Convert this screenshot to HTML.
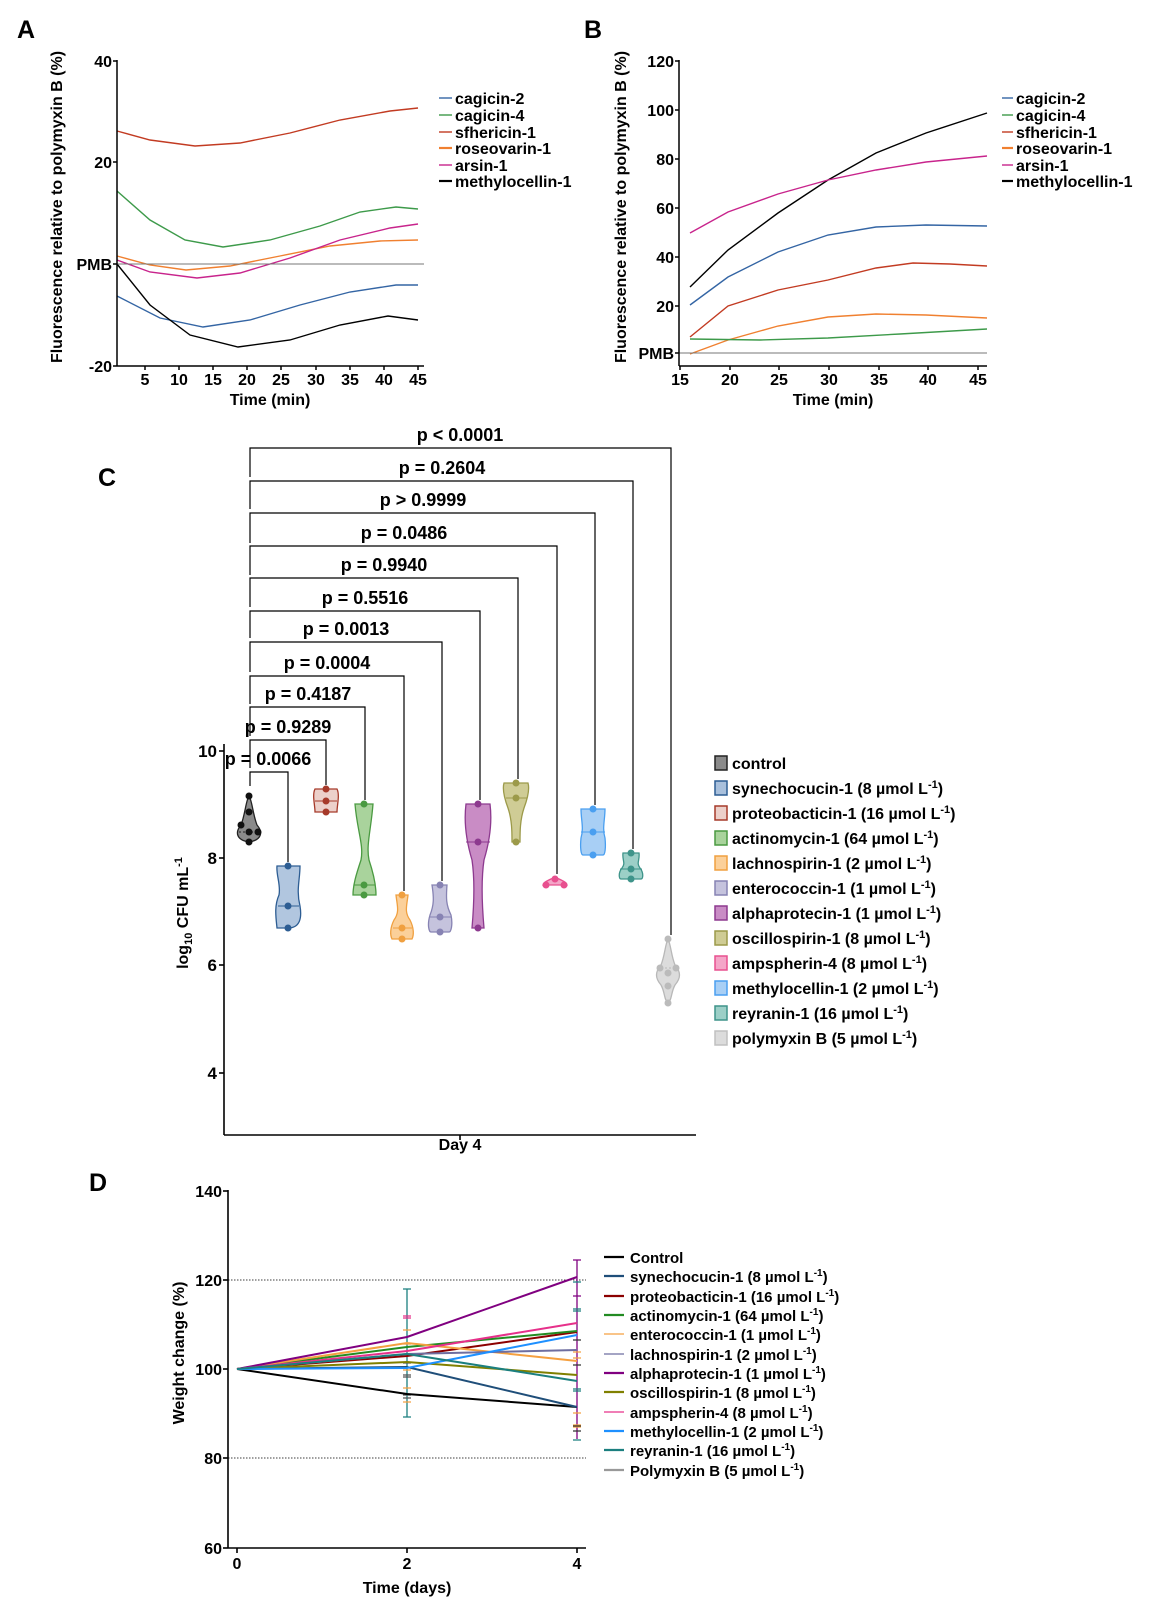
<!DOCTYPE html>
<html><head><meta charset="utf-8"><style>
html,body{margin:0;padding:0;background:#fff;}
svg{display:block;font-family:"Liberation Sans",Arial,sans-serif;font-weight:bold;}
</style></head><body>
<svg width="1158" height="1614" viewBox="0 0 1158 1614" xmlns="http://www.w3.org/2000/svg">
<!-- ========== PANEL A ========== -->
<text x="17" y="38" font-size="25">A</text>
<g fill="none" stroke-width="1.4">
<polyline stroke="#c23b22" points="117,131 150,140 195,146 240,143 290,133 340,120 390,111 418,108"/>
<polyline stroke="#3d9a4a" points="117,191 150,220 185,240 223,247 270,240 320,226 360,212 396,207 418,209"/>
<polyline stroke="#f08030" points="117,256 150,265 186,270 230,266 280,256 330,246 380,241 418,240"/>
<polyline stroke="#c8248c" points="117,260 150,272 197,278 240,273 290,258 340,240 390,228 418,224"/>
<polyline stroke="#3465a4" points="117,296 160,318 203,327 250,320 300,305 350,292 396,285 418,285"/>
<polyline stroke="#000" points="117,264 150,305 190,335 238,347 290,340 340,325 388,316 418,320"/>
</g>
<line x1="117" y1="264" x2="424" y2="264" stroke="#777" stroke-width="1"/>
<g stroke="#000" stroke-width="1.5">
<line x1="117" y1="60" x2="117" y2="366"/><line x1="117" y1="366" x2="424" y2="366"/>
<line x1="113" y1="61" x2="117" y2="61"/><line x1="113" y1="162" x2="117" y2="162"/><line x1="113" y1="264" x2="117" y2="264"/><line x1="113" y1="366" x2="117" y2="366"/>
<line x1="145" y1="366" x2="145" y2="370"/><line x1="179" y1="366" x2="179" y2="370"/><line x1="213" y1="366" x2="213" y2="370"/><line x1="247" y1="366" x2="247" y2="370"/><line x1="281" y1="366" x2="281" y2="370"/><line x1="316" y1="366" x2="316" y2="370"/><line x1="350" y1="366" x2="350" y2="370"/><line x1="384" y1="366" x2="384" y2="370"/><line x1="418" y1="366" x2="418" y2="370"/>
</g>
<g font-size="16" text-anchor="end">
<text x="112" y="67">40</text><text x="112" y="168">20</text><text x="112" y="270">PMB</text><text x="112" y="372">-20</text>
</g>
<g font-size="16" text-anchor="middle">
<text x="145" y="385">5</text><text x="179" y="385">10</text><text x="213" y="385">15</text><text x="247" y="385">20</text><text x="281" y="385">25</text><text x="316" y="385">30</text><text x="350" y="385">35</text><text x="384" y="385">40</text><text x="418" y="385">45</text>
<text x="270" y="405">Time (min)</text>
<text transform="translate(62,207) rotate(-90)">Fluorescence relative to polymyxin B (%)</text>
</g>
<g font-size="16">
<line x1="439" y1="98" x2="452" y2="98" stroke="#3465a4" stroke-width="1.4"/><text x="455" y="104">cagicin-2</text>
<line x1="439" y1="115" x2="452" y2="115" stroke="#3d9a4a" stroke-width="1.4"/><text x="455" y="121">cagicin-4</text>
<line x1="439" y1="132" x2="452" y2="132" stroke="#c23b22" stroke-width="1.4"/><text x="455" y="138">sfhericin-1</text>
<line x1="439" y1="148" x2="452" y2="148" stroke="#f08030" stroke-width="2.2"/><text x="455" y="154">roseovarin-1</text>
<line x1="439" y1="165" x2="452" y2="165" stroke="#c8248c" stroke-width="1.4"/><text x="455" y="171">arsin-1</text>
<line x1="439" y1="181" x2="452" y2="181" stroke="#000" stroke-width="2.2"/><text x="455" y="187">methylocellin-1</text>
</g>
<!-- ========== PANEL B ========== -->
<text x="584" y="38" font-size="25">B</text>
<g fill="none" stroke-width="1.4">
<polyline stroke="#000" points="690,287 728,250 778,213 828,180 876,153 926,133 987,113"/>
<polyline stroke="#c8248c" points="690,233 728,212 778,194 828,180 876,170 926,162 987,156"/>
<polyline stroke="#3465a4" points="690,305 728,277 778,252 828,235 876,227 926,225 987,226"/>
<polyline stroke="#c23b22" points="690,337 728,306 778,290 828,280 876,268 913,263 950,264 987,266"/>
<polyline stroke="#f08030" points="690,354 728,340 778,326 828,317 876,314 926,315 987,318"/>
<polyline stroke="#3d9a4a" points="690,339 760,340 828,338 900,334 987,329"/>
</g>
<line x1="679" y1="353" x2="987" y2="353" stroke="#777" stroke-width="1"/>
<g stroke="#000" stroke-width="1.5">
<line x1="679" y1="60" x2="679" y2="366"/><line x1="679" y1="366" x2="987" y2="366"/>
<line x1="675" y1="61" x2="679" y2="61"/><line x1="675" y1="110" x2="679" y2="110"/><line x1="675" y1="159" x2="679" y2="159"/><line x1="675" y1="208" x2="679" y2="208"/><line x1="675" y1="257" x2="679" y2="257"/><line x1="675" y1="306" x2="679" y2="306"/><line x1="675" y1="353" x2="679" y2="353"/>
<line x1="680" y1="366" x2="680" y2="370"/><line x1="730" y1="366" x2="730" y2="370"/><line x1="779" y1="366" x2="779" y2="370"/><line x1="829" y1="366" x2="829" y2="370"/><line x1="879" y1="366" x2="879" y2="370"/><line x1="928" y1="366" x2="928" y2="370"/><line x1="978" y1="366" x2="978" y2="370"/>
</g>
<g font-size="16" text-anchor="end">
<text x="674" y="67">120</text><text x="674" y="116">100</text><text x="674" y="165">80</text><text x="674" y="214">60</text><text x="674" y="263">40</text><text x="674" y="312">20</text><text x="674" y="359">PMB</text>
</g>
<g font-size="16" text-anchor="middle">
<text x="680" y="385">15</text><text x="730" y="385">20</text><text x="779" y="385">25</text><text x="829" y="385">30</text><text x="879" y="385">35</text><text x="928" y="385">40</text><text x="978" y="385">45</text>
<text x="833" y="405">Time (min)</text>
<text transform="translate(626,207) rotate(-90)">Fluorescence relative to polymyxin B (%)</text>
</g>
<g font-size="16">
<line x1="1002" y1="98" x2="1013" y2="98" stroke="#3465a4" stroke-width="1.4"/><text x="1016" y="104">cagicin-2</text>
<line x1="1002" y1="115" x2="1013" y2="115" stroke="#3d9a4a" stroke-width="1.4"/><text x="1016" y="121">cagicin-4</text>
<line x1="1002" y1="132" x2="1013" y2="132" stroke="#c23b22" stroke-width="1.4"/><text x="1016" y="138">sfhericin-1</text>
<line x1="1002" y1="148" x2="1013" y2="148" stroke="#f08030" stroke-width="2.2"/><text x="1016" y="154">roseovarin-1</text>
<line x1="1002" y1="165" x2="1013" y2="165" stroke="#c8248c" stroke-width="1.4"/><text x="1016" y="171">arsin-1</text>
<line x1="1002" y1="181" x2="1013" y2="181" stroke="#000" stroke-width="2.2"/><text x="1016" y="187">methylocellin-1</text>
</g>
<!-- ========== PANEL C ========== -->
<text x="98" y="486" font-size="25">C</text>
<g stroke="#000" stroke-width="1.2" fill="none">
<polyline points="250,786 250,772 288,772 288,862"/>
<polyline points="250,768 250,740 326,740 326,785"/>
<polyline points="250,736 250,707 365,707 365,800"/>
<polyline points="250,704 250,676 404,676 404,891"/>
<polyline points="250,672 250,642 442,642 442,881"/>
<polyline points="250,638 250,611 480,611 480,800"/>
<polyline points="250,607 250,578 518,578 518,779"/>
<polyline points="250,575 250,546 557,546 557,874"/>
<polyline points="250,543 250,513 595,513 595,805"/>
<polyline points="250,509 250,481 633,481 633,849"/>
<polyline points="250,477 250,448 671,448 671,935"/>
</g>
<g font-size="18" text-anchor="middle">
<text x="268" y="765">p = 0.0066</text>
<text x="288" y="733">p = 0.9289</text>
<text x="308" y="700">p = 0.4187</text>
<text x="327" y="669">p = 0.0004</text>
<text x="346" y="635">p = 0.0013</text>
<text x="365" y="604">p = 0.5516</text>
<text x="384" y="571">p = 0.9940</text>
<text x="404" y="539">p = 0.0486</text>
<text x="423" y="506">p &gt; 0.9999</text>
<text x="442" y="474">p = 0.2604</text>
<text x="460" y="441">p &lt; 0.0001</text>
</g>
<!-- violins -->
<g stroke-width="1.3">
<path d="M249,796 C252,800 253,815 257,825 C263,832 262,840 249,842 C236,840 235,832 241,825 C245,815 246,800 249,796Z" fill="#8a8a8a" stroke="#222"/>
<path d="M277,866 L300,866 C300,880 296,890 300,906 C302,918 300,928 288,928 L277,928 C276,918 274,906 279,895 C281,885 276,875 277,866Z" fill="#a9c0dc" stroke="#2d5d93" fill-opacity="0.9"/>
<path d="M315,789 L337,789 C340,795 337,805 337,812 L315,812 C315,805 312,795 315,789Z" fill="#ecd0ca" stroke="#a63a2a"/>
<path d="M355,804 L373,804 C371,830 366,845 369,860 C374,875 376,885 376,895 L353,895 C353,885 356,875 361,860 C364,845 357,830 355,804Z" fill="#a9d39c" stroke="#4a9a41"/>
<path d="M396,895 L408,895 C407,905 404,912 410,920 C414,928 414,935 412,939 L392,939 C390,935 390,928 394,920 C400,912 397,905 396,895Z" fill="#fbd09a" stroke="#f0a040"/>
<path d="M432,885 L447,885 C446,898 446,905 451,915 C453,925 451,932 449,932 L431,932 C429,932 427,925 430,915 C434,905 434,898 432,885Z" fill="#c5c3dd" stroke="#8783b3"/>
<path d="M466,804 L490,804 C492,820 490,840 484,860 C481,880 482,905 484,928 L472,928 C474,905 475,880 472,860 C466,840 464,820 466,804Z" fill="#c98cc5" stroke="#8d3a8f"/>
<path d="M504,783 L528,783 C530,790 527,800 524,808 C520,820 520,832 520,842 L512,842 C512,832 512,820 508,808 C505,800 502,790 504,783Z" fill="#cfcc95" stroke="#9c9a4a"/>
<path d="M555,877 C558,879 566,881 567,885 L543,885 C544,881 552,879 555,877Z" fill="#f4a6c8" stroke="#e8508f"/>
<path d="M581,809 L605,809 C605,820 602,828 605,838 C606,848 605,855 603,855 L583,855 C581,855 580,848 581,838 C584,828 581,820 581,809Z" fill="#a8cff5" stroke="#4a9ff0"/>
<path d="M623,853 L639,853 C640,860 636,863 640,868 C644,873 643,879 641,879 L621,879 C619,879 618,873 622,868 C626,863 622,860 623,853Z" fill="#9ccfc7" stroke="#3e948a"/>
<path d="M668,939 C671,945 671,955 675,965 C681,972 681,978 675,985 C671,992 672,1000 668,1003 C664,1000 665,992 661,985 C655,978 655,972 661,965 C665,955 665,945 668,939Z" fill="#dcdcdc" stroke="#b8b8b8"/>
</g>
<g stroke-width="1">
<line x1="239" y1="832" x2="259" y2="832" stroke="#222" stroke-dasharray="2,2"/>
<line x1="278" y1="906" x2="299" y2="906" stroke="#2d5d93"/>
<line x1="315" y1="801" x2="337" y2="801" stroke="#a63a2a"/>
<line x1="354" y1="885" x2="375" y2="885" stroke="#4a9a41"/>
<line x1="393" y1="928" x2="412" y2="928" stroke="#f0a040"/>
<line x1="430" y1="917" x2="451" y2="917" stroke="#8783b3"/>
<line x1="466" y1="842" x2="490" y2="842" stroke="#8d3a8f"/>
<line x1="506" y1="798" x2="527" y2="798" stroke="#9c9a4a"/>
<line x1="581" y1="832" x2="605" y2="832" stroke="#4a9ff0"/>
<line x1="620" y1="869" x2="642" y2="869" stroke="#3e948a"/>
<line x1="657" y1="968" x2="679" y2="968" stroke="#b8b8b8" stroke-dasharray="2,2"/>
</g>
<g>
<g fill="#111"><circle cx="249" cy="796" r="3.5"/><circle cx="249" cy="812" r="3.5"/><circle cx="241" cy="825" r="3.5"/><circle cx="249" cy="832" r="3.5"/><circle cx="258" cy="832" r="3.5"/><circle cx="249" cy="842" r="3.5"/></g>
<g fill="#2d5d93"><circle cx="288" cy="866" r="3.5"/><circle cx="288" cy="906" r="3.5"/><circle cx="288" cy="928" r="3.5"/></g>
<g fill="#a63a2a"><circle cx="326" cy="789" r="3.5"/><circle cx="326" cy="801" r="3.5"/><circle cx="326" cy="812" r="3.5"/></g>
<g fill="#4a9a41"><circle cx="364" cy="804" r="3.5"/><circle cx="364" cy="885" r="3.5"/><circle cx="364" cy="895" r="3.5"/></g>
<g fill="#f0a040"><circle cx="402" cy="895" r="3.5"/><circle cx="402" cy="928" r="3.5"/><circle cx="402" cy="939" r="3.5"/></g>
<g fill="#8783b3"><circle cx="440" cy="885" r="3.5"/><circle cx="440" cy="917" r="3.5"/><circle cx="440" cy="932" r="3.5"/></g>
<g fill="#8d3a8f"><circle cx="478" cy="804" r="3.5"/><circle cx="478" cy="842" r="3.5"/><circle cx="478" cy="928" r="3.5"/></g>
<g fill="#9c9a4a"><circle cx="516" cy="783" r="3.5"/><circle cx="516" cy="798" r="3.5"/><circle cx="516" cy="842" r="3.5"/></g>
<g fill="#e8508f"><circle cx="546" cy="885" r="3.5"/><circle cx="555" cy="879" r="3.5"/><circle cx="564" cy="885" r="3.5"/></g>
<g fill="#4a9ff0"><circle cx="593" cy="809" r="3.5"/><circle cx="593" cy="832" r="3.5"/><circle cx="593" cy="855" r="3.5"/></g>
<g fill="#3e948a"><circle cx="631" cy="853" r="3.5"/><circle cx="631" cy="869" r="3.5"/><circle cx="631" cy="879" r="3.5"/></g>
<g fill="#bbb"><circle cx="668" cy="939" r="3.5"/><circle cx="660" cy="968" r="3.5"/><circle cx="668" cy="973" r="3.5"/><circle cx="676" cy="968" r="3.5"/><circle cx="668" cy="986" r="3.5"/><circle cx="668" cy="1003" r="3.5"/></g>
</g>
<g stroke="#000" stroke-width="1.6">
<line x1="224" y1="744" x2="224" y2="1135"/><line x1="224" y1="1135" x2="696" y2="1135"/>
<line x1="219" y1="751" x2="224" y2="751"/><line x1="219" y1="858" x2="224" y2="858"/><line x1="219" y1="965" x2="224" y2="965"/><line x1="219" y1="1073" x2="224" y2="1073"/>
<line x1="460" y1="1135" x2="460" y2="1140"/>
</g>
<g font-size="17" text-anchor="end">
<text x="217" y="757">10</text><text x="217" y="864">8</text><text x="217" y="971">6</text><text x="217" y="1079">4</text>
</g>
<text x="460" y="1150" font-size="16" text-anchor="middle">Day 4</text>
<text transform="translate(188,913) rotate(-90)" font-size="16" text-anchor="middle">log<tspan font-size="11" dy="4">10</tspan><tspan dy="-4"> CFU mL</tspan><tspan font-size="11" dy="-6">-1</tspan></text>
<g font-size="16" stroke-width="1.5">
<rect x="715" y="756" width="12" height="14" fill="#8a8a8a" stroke="#222"/><text x="732" y="769">control</text>
<rect x="715" y="781" width="12" height="14" fill="#a9c0dc" stroke="#2d5d93"/><text x="732" y="794">synechocucin-1 (8 µmol L<tspan font-size="11" dy="-6">-1</tspan><tspan dy="6">)</tspan></text>
<rect x="715" y="806" width="12" height="14" fill="#ecd0ca" stroke="#a63a2a"/><text x="732" y="819">proteobacticin-1 (16 µmol L<tspan font-size="11" dy="-6">-1</tspan><tspan dy="6">)</tspan></text>
<rect x="715" y="831" width="12" height="14" fill="#a9d39c" stroke="#4a9a41"/><text x="732" y="844">actinomycin-1 (64 µmol L<tspan font-size="11" dy="-6">-1</tspan><tspan dy="6">)</tspan></text>
<rect x="715" y="856" width="12" height="14" fill="#fbd09a" stroke="#f0a040"/><text x="732" y="869">lachnospirin-1 (2 µmol L<tspan font-size="11" dy="-6">-1</tspan><tspan dy="6">)</tspan></text>
<rect x="715" y="881" width="12" height="14" fill="#c5c3dd" stroke="#8783b3"/><text x="732" y="894">enterococcin-1 (1 µmol L<tspan font-size="11" dy="-6">-1</tspan><tspan dy="6">)</tspan></text>
<rect x="715" y="906" width="12" height="14" fill="#c98cc5" stroke="#8d3a8f"/><text x="732" y="919">alphaprotecin-1 (1 µmol L<tspan font-size="11" dy="-6">-1</tspan><tspan dy="6">)</tspan></text>
<rect x="715" y="931" width="12" height="14" fill="#cfcc95" stroke="#9c9a4a"/><text x="732" y="944">oscillospirin-1 (8 µmol L<tspan font-size="11" dy="-6">-1</tspan><tspan dy="6">)</tspan></text>
<rect x="715" y="956" width="12" height="14" fill="#f4a6c8" stroke="#e8508f"/><text x="732" y="969">ampspherin-4 (8 µmol L<tspan font-size="11" dy="-6">-1</tspan><tspan dy="6">)</tspan></text>
<rect x="715" y="981" width="12" height="14" fill="#a8cff5" stroke="#4a9ff0"/><text x="732" y="994">methylocellin-1 (2 µmol L<tspan font-size="11" dy="-6">-1</tspan><tspan dy="6">)</tspan></text>
<rect x="715" y="1006" width="12" height="14" fill="#9ccfc7" stroke="#3e948a"/><text x="732" y="1019">reyranin-1 (16 µmol L<tspan font-size="11" dy="-6">-1</tspan><tspan dy="6">)</tspan></text>
<rect x="715" y="1031" width="12" height="14" fill="#dcdcdc" stroke="#c0c0c0"/><text x="732" y="1044">polymyxin B (5 µmol L<tspan font-size="11" dy="-6">-1</tspan><tspan dy="6">)</tspan></text>
</g>
<!-- ========== PANEL D ========== -->
<text x="89" y="1191" font-size="25">D</text>
<g stroke="#000" stroke-width="0.8" stroke-dasharray="1.5,1.5">
<line x1="228" y1="1280" x2="586" y2="1280"/><line x1="228" y1="1458" x2="586" y2="1458"/>
</g>
<!-- error bars -->
<g stroke-width="1.3" fill="none">
<path d="M407,1289 V1417 M403,1289 H411 M403,1417 H411" stroke="#1b7f7f"/>
<path d="M403,1316 H411 M403,1318 H411" stroke="#e6308a"/>
<path d="M403,1330 H411 M403,1344 H411 M403,1388 H411 M403,1402 H411 M403,1370 H411" stroke="#f5a040"/>
<path d="M403,1363 H411 M403,1375 H411 M403,1377 H411 M403,1395 H411 M403,1398 H411" stroke="#555"/>
<path d="M577,1260 V1439 M573,1260 H581 M573,1296 H581" stroke="#800080"/>
<path d="M573,1282 H581 M573,1309 H581 M573,1311 H581 M573,1389 H581 M573,1391 H581 M573,1440 H581" stroke="#1b7f7f"/>
<path d="M573,1352 H581 M573,1413 H581 M573,1425 H581 M573,1427 H581 M573,1358 H581" stroke="#f5a040"/>
<path d="M573,1340 H581 M573,1365 H581 M573,1426 H581 M573,1431 H581" stroke="#333"/>
</g>
<g fill="none" stroke-width="2">
<polyline stroke="#000" points="237,1369 407,1394 577,1407"/>
<polyline stroke="#1f4e79" points="237,1369 407,1367 577,1407"/>
<polyline stroke="#8b0000" points="237,1369 407,1356 577,1332"/>
<polyline stroke="#228b22" points="237,1369 407,1347 577,1331"/>
<polyline stroke="#f5a040" points="237,1369 407,1343 577,1361"/>
<polyline stroke="#6e6ea0" points="237,1369 407,1354 577,1350"/>
<polyline stroke="#800080" points="237,1369 407,1337 577,1277"/>
<polyline stroke="#808000" points="237,1369 407,1362 577,1375"/>
<polyline stroke="#e6308a" points="237,1369 407,1351 577,1323"/>
<polyline stroke="#1e90ff" points="237,1369 407,1368 577,1335"/>
<polyline stroke="#1b7f7f" points="237,1369 407,1354 577,1381"/>
</g>
<g stroke="#000" stroke-width="1.6">
<line x1="228" y1="1190" x2="228" y2="1548"/><line x1="228" y1="1548" x2="586" y2="1548"/>
<line x1="223" y1="1191" x2="228" y2="1191"/><line x1="223" y1="1280" x2="228" y2="1280"/><line x1="223" y1="1369" x2="228" y2="1369"/><line x1="223" y1="1458" x2="228" y2="1458"/><line x1="223" y1="1548" x2="228" y2="1548"/>
<line x1="237" y1="1548" x2="237" y2="1553"/><line x1="407" y1="1548" x2="407" y2="1553"/><line x1="577" y1="1548" x2="577" y2="1553"/>
</g>
<g font-size="16" text-anchor="end">
<text x="222" y="1197">140</text><text x="222" y="1286">120</text><text x="222" y="1375">100</text><text x="222" y="1464">80</text><text x="222" y="1554">60</text>
</g>
<g font-size="16" text-anchor="middle">
<text x="237" y="1569">0</text><text x="407" y="1569">2</text><text x="577" y="1569">4</text>
<text x="407" y="1593">Time (days)</text>
<text transform="translate(184,1353) rotate(-90)">Weight change (%)</text>
</g>
<g font-size="15" stroke-width="2.2">
<line x1="604" y1="1257" x2="624" y2="1257" stroke="#000"/><text x="630" y="1263">Control</text>
<line x1="604" y1="1276" x2="624" y2="1276" stroke="#1f4e79"/><text x="630" y="1282">synechocucin-1 (8 µmol L<tspan font-size="10" dy="-6">-1</tspan><tspan dy="6">)</tspan></text>
<line x1="604" y1="1296" x2="624" y2="1296" stroke="#8b0000"/><text x="630" y="1302">proteobacticin-1 (16 µmol L<tspan font-size="10" dy="-6">-1</tspan><tspan dy="6">)</tspan></text>
<line x1="604" y1="1315" x2="624" y2="1315" stroke="#228b22"/><text x="630" y="1321">actinomycin-1 (64 µmol L<tspan font-size="10" dy="-6">-1</tspan><tspan dy="6">)</tspan></text>
<line x1="604" y1="1334" x2="624" y2="1334" stroke="#f5a040" stroke-width="1.2"/><text x="630" y="1340">enterococcin-1 (1 µmol L<tspan font-size="10" dy="-6">-1</tspan><tspan dy="6">)</tspan></text>
<line x1="604" y1="1354" x2="624" y2="1354" stroke="#6e6ea0" stroke-width="1.2"/><text x="630" y="1360">lachnospirin-1 (2 µmol L<tspan font-size="10" dy="-6">-1</tspan><tspan dy="6">)</tspan></text>
<line x1="604" y1="1373" x2="624" y2="1373" stroke="#800080"/><text x="630" y="1379">alphaprotecin-1 (1 µmol L<tspan font-size="10" dy="-6">-1</tspan><tspan dy="6">)</tspan></text>
<line x1="604" y1="1392" x2="624" y2="1392" stroke="#808000"/><text x="630" y="1398">oscillospirin-1 (8 µmol L<tspan font-size="10" dy="-6">-1</tspan><tspan dy="6">)</tspan></text>
<line x1="604" y1="1412" x2="624" y2="1412" stroke="#e6308a" stroke-width="1.2"/><text x="630" y="1418">ampspherin-4 (8 µmol L<tspan font-size="10" dy="-6">-1</tspan><tspan dy="6">)</tspan></text>
<line x1="604" y1="1431" x2="624" y2="1431" stroke="#1e90ff"/><text x="630" y="1437">methylocellin-1 (2 µmol L<tspan font-size="10" dy="-6">-1</tspan><tspan dy="6">)</tspan></text>
<line x1="604" y1="1450" x2="624" y2="1450" stroke="#1b7f7f"/><text x="630" y="1456">reyranin-1 (16 µmol L<tspan font-size="10" dy="-6">-1</tspan><tspan dy="6">)</tspan></text>
<line x1="604" y1="1470" x2="624" y2="1470" stroke="#999"/><text x="630" y="1476">Polymyxin B (5 µmol L<tspan font-size="10" dy="-6">-1</tspan><tspan dy="6">)</tspan></text>
</g>
</svg>
</body></html>
